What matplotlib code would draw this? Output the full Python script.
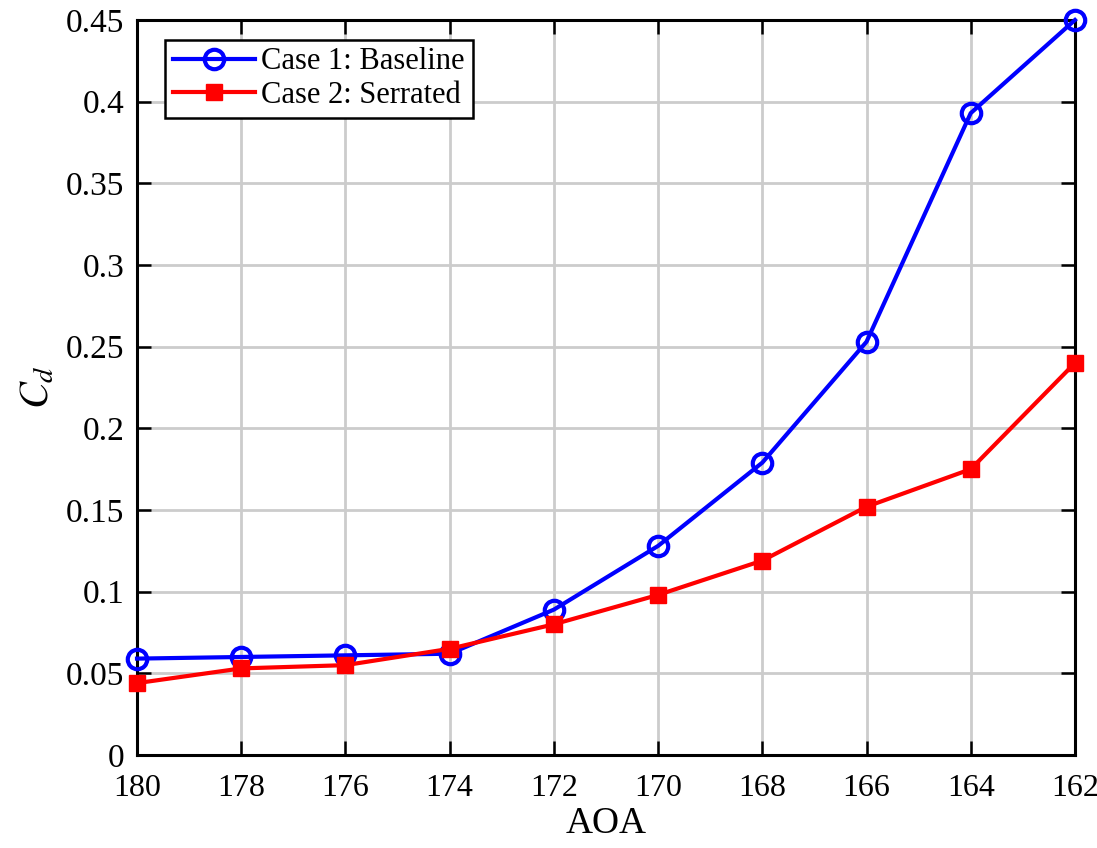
import matplotlib
matplotlib.use("Agg")
import matplotlib.pyplot as plt

aoa = [180, 178, 176, 174, 172, 170, 168, 166, 164, 162]
baseline = [0.059, 0.060, 0.061, 0.062, 0.089, 0.128, 0.179, 0.253, 0.393, 0.450]
serrated = [0.044, 0.053, 0.055, 0.065, 0.080, 0.098, 0.119, 0.152, 0.175, 0.240]
xticks = [180, 178, 176, 174, 172, 170, 168, 166, 164, 162]
yticks = [0, 0.05, 0.1, 0.15, 0.2, 0.25, 0.3, 0.35, 0.4, 0.45]
ytick_labels = ["0", "0.05", "0.1", "0.15", "0.2", "0.25", "0.3", "0.35", "0.4", "0.45"]

plt.rcParams['font.family'] = ['Liberation Serif', 'DejaVu Serif']
plt.rcParams['mathtext.fontset'] = 'stix'

fig = plt.figure(figsize=(10.97, 8.48), dpi=100)
ax = fig.add_axes([0.1249, 0.1097, 0.855, 0.8667])

ax.plot(aoa, baseline, color='#0000ff', lw=3, marker='o', ms=14,
        mfc='none', mew=3, label='Case 1: Baseline', clip_on=False, zorder=3)
ax.plot(aoa, serrated, color='#ff0000', lw=3, marker='s', ms=11,
        mfc='#ff0000', mec='#ff0000', label='Case 2: Serrated', clip_on=False, zorder=3)

ax.set_xlim(180, 162)
ax.set_ylim(0, 0.45)
ax.set_xticks(xticks)
ax.set_xticklabels([str(x) for x in xticks])
ax.set_yticks(yticks)
ax.set_yticklabels(ytick_labels)
ax.tick_params(direction='in', length=10, width=1.8, top=True, right=True)
ax.tick_params(axis='x', pad=14, labelsize=23)
ax.tick_params(axis='y', pad=9, labelsize=24)
ax.grid(True, color='#cccccc', lw=2)
ax.set_axisbelow(True)
for s in ax.spines.values():
    s.set_linewidth(2.2)
ax.set_xlabel('AOA', fontsize=27, labelpad=2)
ax.set_ylabel(r'$C_d$', fontsize=29, labelpad=6)

leg = ax.legend(loc='upper left', bbox_to_anchor=(0.03, 0.973), fontsize=22,
                frameon=True, fancybox=False, edgecolor='black', framealpha=1,
                handlelength=2.7, borderpad=0.25, labelspacing=0.15, handletextpad=0.2,
                borderaxespad=0)
leg.get_frame().set_linewidth(1.8)

fig.savefig('out.png', dpi=100)
